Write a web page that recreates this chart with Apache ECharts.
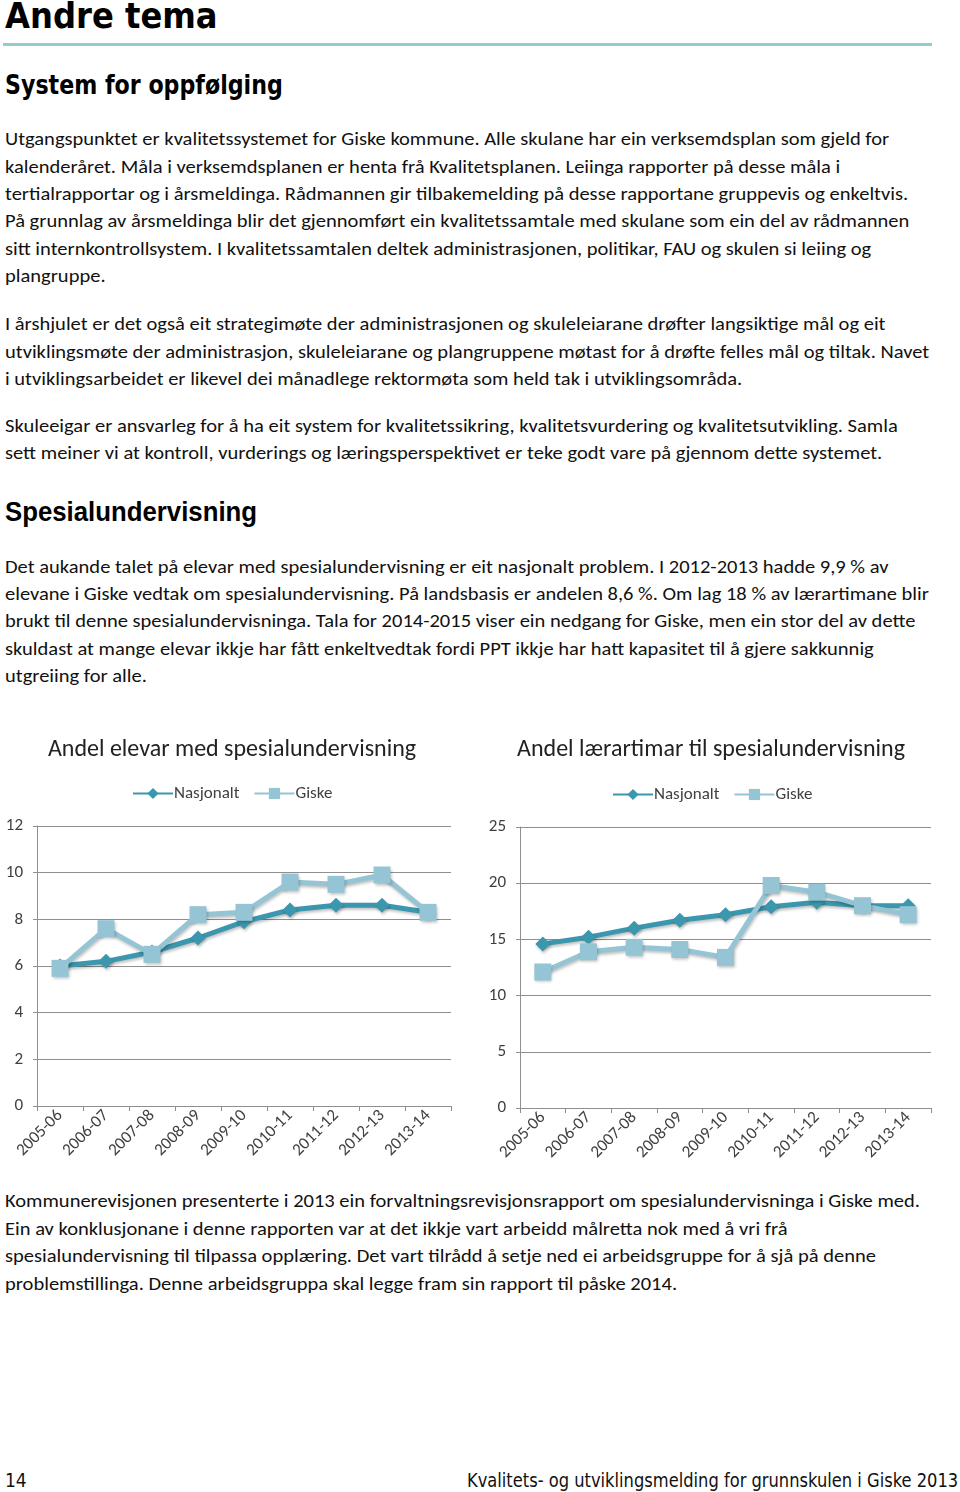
<!DOCTYPE html>
<html>
<head>
<meta charset="utf-8">
<script src="https://cdn.jsdelivr.net/npm/echarts@6/dist/echarts.min.js"></script>
<style>
  html, body { margin:0; padding:0; background:#fff; }
  body { width:960px; height:1492px; position:relative; overflow:hidden; color:#111; }
  .ln { position:absolute; left:5px; white-space:nowrap; font-family:Carlito, Lato, "Open Sans", sans-serif; font-size:18px; line-height:20px; transform-origin:left center; }
  .h { position:absolute; left:5px; white-space:nowrap; transform-origin:left center; color:#000; }
  #rule { position:absolute; left:3px; top:43px; width:929px; height:3px; background:#93cbd2; }
  #chart { position:absolute; left:0; top:720px; width:960px; height:470px; }
</style>
</head>
<body>
<div class="h" id="h1" data-w="213" style="top:-4px;font:bold 36px 'Liberation Sans Narrow','DejaVu Sans Condensed',sans-serif;line-height:40px;">Andre tema</div>
<div id="rule"></div>
<div class="h" id="h2" data-w="278" style="top:70px;font:bold 27px 'Liberation Sans Narrow','DejaVu Sans Condensed',sans-serif;line-height:30px;">System for oppfølging</div>

<div class="ln" style="top:129px">Utgangspunktet er kvalitetssystemet for Giske kommune. Alle skulane har ein verksemdsplan som gjeld for</div>
<div class="ln" style="top:157px">kalenderåret. Måla i verksemdsplanen er henta frå Kvalitetsplanen. Leiinga rapporter på desse måla i</div>
<div class="ln" style="top:184px">tertialrapportar og i årsmeldinga. Rådmannen gir tilbakemelding på desse rapportane gruppevis og enkeltvis.</div>
<div class="ln" style="top:211px">På grunnlag av årsmeldinga blir det gjennomført ein kvalitetssamtale med skulane som ein del av rådmannen</div>
<div class="ln" style="top:239px">sitt internkontrollsystem. I kvalitetssamtalen deltek administrasjonen, politikar, FAU og skulen si leiing og</div>
<div class="ln" style="top:266px">plangruppe.</div>

<div class="ln" style="top:314px">I årshjulet er det også eit strategimøte der administrasjonen og skuleleiarane drøfter langsiktige mål og eit</div>
<div class="ln" style="top:342px">utviklingsmøte der administrasjon, skuleleiarane og plangruppene møtast for å drøfte felles mål og tiltak. Navet</div>
<div class="ln" style="top:369px">i utviklingsarbeidet er likevel dei månadlege rektormøta som held tak i utviklingsområda.</div>

<div class="ln" style="top:416px">Skuleeigar er ansvarleg for å ha eit system for kvalitetssikring, kvalitetsvurdering og kvalitetsutvikling. Samla</div>
<div class="ln" style="top:443px">sett meiner vi at kontroll, vurderings og læringsperspektivet er teke godt vare på gjennom dette systemet.</div>

<div class="h" id="h3" data-w="252" style="top:497px;font:bold 27px 'Liberation Sans','DejaVu Sans',sans-serif;line-height:30px;">Spesialundervisning</div>

<div class="ln" style="top:557px">Det aukande talet på elevar med spesialundervisning er eit nasjonalt problem. I 2012-2013 hadde 9,9 % av</div>
<div class="ln" style="top:584px">elevane i Giske vedtak om spesialundervisning. På landsbasis er andelen 8,6 %. Om lag 18 % av lærartimane blir</div>
<div class="ln" style="top:611px">brukt til denne spesialundervisninga. Tala for 2014-2015 viser ein nedgang for Giske, men ein stor del av dette</div>
<div class="ln" style="top:639px">skuldast at mange elevar ikkje har fått enkeltvedtak fordi PPT ikkje har hatt kapasitet til å gjere sakkunnig</div>
<div class="ln" style="top:666px">utgreiing for alle.</div>

<div id="chart"></div>

<div class="ln" style="top:1191px">Kommunerevisjonen presenterte i 2013 ein forvaltningsrevisjonsrapport om spesialundervisninga i Giske med.</div>
<div class="ln" style="top:1219px">Ein av konklusjonane i denne rapporten var at det ikkje vart arbeidd målretta nok med å vri frå</div>
<div class="ln" style="top:1246px">spesialundervisning til tilpassa opplæring. Det vart tilrådd å setje ned ei arbeidsgruppe for å sjå på denne</div>
<div class="ln" style="top:1274px">problemstillinga. Denne arbeidsgruppa skal legge fram sin rapport til påske 2014.</div>

<div class="h" style="top:1469px;font:19px 'Liberation Sans Narrow','DejaVu Sans Condensed',sans-serif;line-height:22px;color:#111;">14</div>
<div class="h" id="foot" data-w="491" style="left:467px;top:1469px;font:19px 'Liberation Sans Narrow','DejaVu Sans Condensed',sans-serif;line-height:22px;color:#111;">Kvalitets- og utviklingsmelding for grunnskulen i Giske 2013</div>

<script>
// ---- data ----
var categories = ['2005-06','2006-07','2007-08','2008-09','2009-10','2010-11','2011-12','2012-13','2013-14'];
var elevarNasjonalt = [6.0, 6.2, 6.6, 7.2, 7.9, 8.4, 8.6, 8.6, 8.3];
var elevarGiske     = [5.9, 7.6, 6.5, 8.2, 8.3, 9.6, 9.5, 9.9, 8.3];
var timarNasjonalt  = [14.6, 15.2, 16.0, 16.7, 17.2, 17.9, 18.3, 18.0, 18.0];
var timarGiske      = [12.1, 13.9, 14.3, 14.1, 13.4, 19.8, 19.2, 18.0, 17.2];
var seriesNames = ['Nasjonalt', 'Giske'];
var titles = ['Andel elevar med spesialundervisning', 'Andel lærartimar til spesialundervisning'];

// ---- fit text widths ----
(function(){
  var lines = document.querySelectorAll('.ln');
  var s = 884 / lines[0].scrollWidth;
  lines.forEach(function(el){ el.style.transform = 'scaleX(' + s + ')'; });
  document.querySelectorAll('.h[data-w]').forEach(function(el){
    var w = +el.getAttribute('data-w');
    el.style.transform = 'scaleX(' + (w / el.scrollWidth) + ')';
  });
})();

// ---- chart ----
var cDark = '#3b97ad', cLight = '#95c5d5';
var txt = '#404040', grid = '#8f8f8f';
var fontFam = 'Carlito, Lato, "Open Sans", sans-serif';

function xAxis(gi){
  return {
    type:'category', gridIndex:gi, data:categories, boundaryGap:true,
    axisLine:{lineStyle:{color:grid, width:1}},
    axisTick:{show:true, length:5, lineStyle:{color:grid}},
    axisLabel:{rotate:45, fontSize:17, color:txt, fontFamily:fontFam, margin:7, interval:0}
  };
}
function yAxis(gi, max, interval){
  return {
    type:'value', gridIndex:gi, min:0, max:max, interval:interval,
    axisLine:{show:true, lineStyle:{color:grid}},
    axisTick:{show:true, length:4, lineStyle:{color:grid}},
    splitLine:{lineStyle:{color:grid, width:1}},
    axisLabel:{fontSize:17, color:txt, fontFamily:fontFam, margin:14}
  };
}
function lineSeries(name, data, gi, color, symbol, size){
  return {
    type:'line', name:name, data:data, xAxisIndex:gi, yAxisIndex:gi,
    symbol:symbol, symbolSize:size, showSymbol:true,
    lineStyle:{color:color, width:5, shadowColor:'rgba(0,0,0,0.25)', shadowBlur:3, shadowOffsetX:1, shadowOffsetY:2},
    itemStyle:{color:color, borderWidth:0, shadowColor:'rgba(0,0,0,0.25)', shadowBlur:3, shadowOffsetX:1, shadowOffsetY:2},
    emphasis:{disabled:true}, animation:false, z: name === 'Giske' ? 3 : 2
  };
}

var chart = echarts.init(document.getElementById('chart'), null, {renderer:'canvas'});
chart.setOption({
  animation:false,
  title:[
    {text:titles[0], left:227, top:13, textAlign:'center', textStyle:{fontSize:24, fontWeight:'normal', color:'#222', fontFamily:fontFam}},
    {text:titles[1], left:706, top:13, textAlign:'center', textStyle:{fontSize:24, fontWeight:'normal', color:'#222', fontFamily:fontFam}}
  ],
  legend:[
    {data:seriesNames, left:127, top:60, itemWidth:40, itemHeight:14, itemGap:14,
     textStyle:{fontSize:17, color:txt, fontFamily:fontFam, padding:[0,0,0,-4]}},
    {data:seriesNames, left:607, top:61, itemWidth:40, itemHeight:14, itemGap:14,
     textStyle:{fontSize:17, color:txt, fontFamily:fontFam, padding:[0,0,0,-4]}}
  ],
  grid:[
    {left:37, top:106, width:414, height:280, containLabel:false},
    {left:520, top:107, width:411, height:281, containLabel:false}
  ],
  xAxis:[xAxis(0), xAxis(1)],
  yAxis:[yAxis(0, 12, 2), yAxis(1, 25, 5)],
  series:[
    lineSeries(seriesNames[0], elevarNasjonalt, 0, cDark, 'diamond', 15),
    lineSeries(seriesNames[1], elevarGiske, 0, cLight, 'rect', 17),
    lineSeries(seriesNames[0], timarNasjonalt, 1, cDark, 'diamond', 15),
    lineSeries(seriesNames[1], timarGiske, 1, cLight, 'rect', 17)
  ]
});
</script>
</body>
</html>
